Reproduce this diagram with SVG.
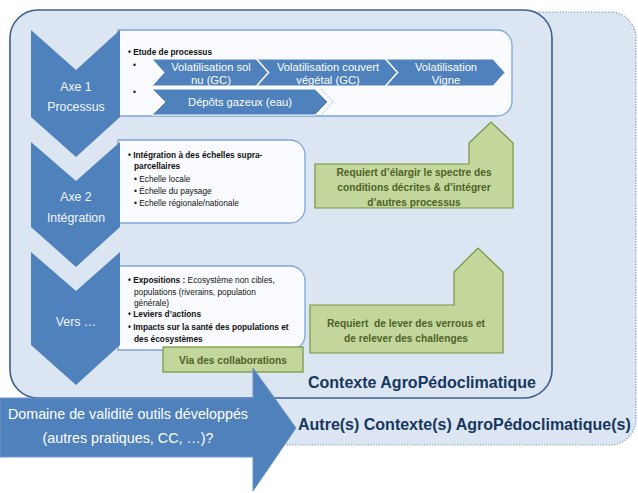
<svg xmlns="http://www.w3.org/2000/svg" width="638" height="493" viewBox="0 0 638 493">
  <defs>
    <style>
      text { font-family: "Liberation Sans", Arial, sans-serif; }
      .ctx-outer { fill: #dce6f2; stroke: #7f95b0; stroke-width: 1.2; stroke-dasharray: 1.2 1.6; }
      .ctx-inner { fill: #dce6f2; stroke: #3b5f8c; stroke-width: 1.6; }
      .axis { fill: #4f81bd; }
      .axis-label { fill: #f2f6fb; font-size: 12.3px; text-anchor: middle; }
      .panel { fill: #f9fbfe; stroke: #7fa5d6; stroke-width: 1.3; }
      .step { fill: #4f81bd; stroke: #ffffff; stroke-width: 1; }
      .step-label { fill: #ffffff; font-size: 11.2px; text-anchor: middle; }
      .item { fill: #111111; font-size: 8.3px; }
      .item-b { fill: #111111; font-size: 8.3px; font-weight: bold; }
      .note { fill: #c3d69b; stroke: #77933c; stroke-width: 1.2; }
      .note-label { fill: #4f6228; font-size: 10.2px; font-weight: bold; text-anchor: middle; }
      .ctx-label { fill: #17375e; font-size: 16px; font-weight: bold; }
      .big-arrow { fill: #4f81bd; stroke: #6c95c8; stroke-width: 1; }
      .big-label { fill: #ffffff; font-size: 14.3px; text-anchor: middle; }
    </style>
  </defs>

  <!-- background -->
  <rect x="0" y="0" width="638" height="493" fill="#ffffff"/>

  <!-- other agro-pedoclimatic contexts (dotted frame) -->
  <g id="autres-contextes">
    <rect class="ctx-outer" x="100" y="12" width="536" height="433" rx="26" ry="26"/>
    <text class="ctx-label" x="298" y="430">Autre(s) Contexte(s) AgroPédoclimatique(s)</text>
  </g>

  <!-- current agro-pedoclimatic context -->
  <g id="contexte">
    <rect class="ctx-inner" x="10" y="10" width="542" height="388" rx="28" ry="28"/>
    <text class="ctx-label" x="308" y="388">Contexte AgroPédoclimatique</text>
  </g>

  <!-- detail panels -->
  <g id="panel-processus">
    <path class="panel" d="M118,30 H497 A15,15 0 0 1 512,45 V101 A15,15 0 0 1 497,116 H118 Z"/>
    <text class="item-b" x="128" y="55">• Etude de processus</text>
    <text class="item" x="133" y="68">•</text>
    <text class="item" x="133" y="95">•</text>
  </g>

  <g id="step-sol-nu">
    <path class="step" d="M152,59 H256 L268,72.5 L256,86 H152 L164,72.5 Z"/>
    <text class="step-label" x="211" y="71">Volatilisation sol</text>
    <text class="step-label" x="211" y="84">nu (GC)</text>
  </g>
  <g id="step-couvert">
    <path class="step" d="M257,59 H385 L397,72.5 L385,86 H257 L269,72.5 Z"/>
    <text class="step-label" x="328" y="71">Volatilisation couvert</text>
    <text class="step-label" x="328" y="84">végétal (GC)</text>
  </g>
  <g id="step-vigne">
    <path class="step" d="M386,59 H493 L505,72.5 L493,86 H386 L398,72.5 Z"/>
    <text class="step-label" x="446" y="71">Volatilisation</text>
    <text class="step-label" x="446" y="84">Vigne</text>
  </g>
  <g id="step-depots">
    <path class="step" d="M152,89 H315 L328,102 L315,115 H152 L165,102 Z"/>
    <path d="M321,89 L333,102 L321,115" fill="none" stroke="#c9d5e4" stroke-width="1"/>
    <text class="step-label" x="240" y="106">Dépôts gazeux (eau)</text>
  </g>

  <g id="panel-integration">
    <path class="panel" d="M118,140 H290 A15,15 0 0 1 305,155 V208 A15,15 0 0 1 290,223 H118 Z"/>
    <text class="item-b" x="128" y="158">• Intégration à des échelles supra-</text>
    <text class="item-b" x="134" y="169">parcellaires</text>
    <text class="item" x="134" y="182">• Echelle locale</text>
    <text class="item" x="134" y="194">• Échelle du paysage</text>
    <text class="item" x="134" y="206">• Echelle régionale/nationale</text>
  </g>

  <g id="panel-vers">
    <path class="panel" d="M118,266 H290 A15,15 0 0 1 305,281 V335 A15,15 0 0 1 290,350 H118 Z"/>
    <text class="item" x="128" y="283"><tspan font-weight="bold">• Expositions :</tspan> Ecosystème non cibles,</text>
    <text class="item" x="134" y="295">populations (riverains, population</text>
    <text class="item" x="134" y="306">générale)</text>
    <text class="item-b" x="128" y="317">• Leviers d’actions</text>
    <text class="item-b" x="128" y="330">• Impacts sur la santé des populations et</text>
    <text class="item-b" x="134" y="342">des écosystèmes</text>
  </g>

  <!-- axes (down chevrons) -->
  <g id="axe-1">
    <path class="axis" d="M31,30 L76,70 L120,30 L120,117 L76,157 L31,117 Z"/>
    <text class="axis-label" x="76" y="91">Axe 1</text>
    <text class="axis-label" x="76" y="111">Processus</text>
  </g>
  <g id="axe-2">
    <path class="axis" d="M31,142 L76,181 L120,142 L120,227 L76,267 L31,227 Z"/>
    <text class="axis-label" x="76" y="201">Axe 2</text>
    <text class="axis-label" x="76" y="222">Intégration</text>
  </g>
  <g id="vers">
    <path class="axis" d="M31,252 L76,291 L120,252 L120,345 L76,385 L31,345 Z"/>
    <text class="axis-label" x="76" y="326">Vers …</text>
  </g>

  <!-- green notes -->
  <g id="note-elargir">
    <path class="note" d="M315,164 H469 V143 L491,122 L513,143 V208 H315 Z"/>
    <text class="note-label" x="414" y="176">Requiert d’élargir le spectre des</text>
    <text class="note-label" x="414" y="191">conditions décrites &amp; d’intégrer</text>
    <text class="note-label" x="414" y="206">d’autres processus</text>
  </g>
  <g id="note-verrous">
    <path class="note" d="M310,305 H454 V272 L478,248 L503,272 V353 H310 Z"/>
    <text class="note-label" x="406" y="327">Requiert&#160; de lever des verrous et</text>
    <text class="note-label" x="406" y="342">de relever des challenges</text>
  </g>
  <g id="note-collaborations">
    <rect class="note" x="163" y="347" width="140" height="25"/>
    <text class="note-label" x="233" y="364" font-size="10.6px">Via des collaborations</text>
  </g>

  <!-- validity domain arrow -->
  <g id="domaine-validite">
    <path class="big-arrow" d="M0,398 H253 V368 L296,428 L253,491 V457 H0 Z"/>
    <text class="big-label" x="128" y="419">Domaine de validité outils développés</text>
    <text class="big-label" x="128" y="443">(autres pratiques, CC, …)?</text>
  </g>

  <g id="connectors"></g>
</svg>
